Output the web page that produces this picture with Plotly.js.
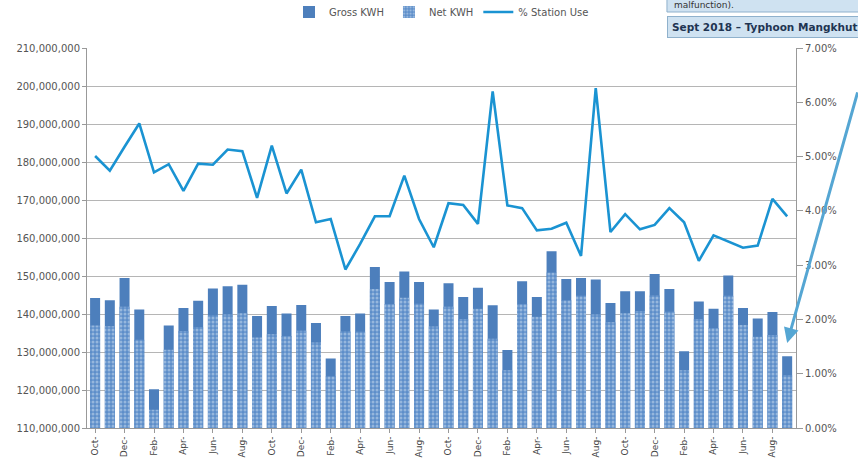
<!DOCTYPE html>
<html><head><meta charset="utf-8">
<script src="https://cdn.plot.ly/plotly-3.0.1.min.js"></script>
<style>html,body{margin:0;padding:0;background:#fff;}#chart{width:858px;height:466px;}</style>
</head><body><div id="chart"></div>
<script>
const months = ["Oct-14","Nov-14","Dec-14","Jan-15","Feb-15","Mar-15","Apr-15","May-15","Jun-15","Jul-15","Aug-15","Sep-15",
"Oct-15","Nov-15","Dec-15","Jan-16","Feb-16","Mar-16","Apr-16","May-16","Jun-16","Jul-16","Aug-16","Sep-16",
"Oct-16","Nov-16","Dec-16","Jan-17","Feb-17","Mar-17","Apr-17","May-17","Jun-17","Jul-17","Aug-17","Sep-17",
"Oct-17","Nov-17","Dec-17","Jan-18","Feb-18","Mar-18","Apr-18","May-18","Jun-18","Jul-18","Aug-18","Sep-18"];
const grossKWH = [144200000,143600000,149500000,141200000,120200000,137000000,141600000,143500000,146700000,147300000,147700000,139500000,
142100000,140100000,142400000,137600000,128300000,139500000,140100000,152400000,148400000,151200000,148400000,141200000,
148100000,144500000,146900000,142300000,130500000,148600000,144500000,156500000,149200000,149500000,149100000,142900000,
146000000,146000000,150500000,146600000,130200000,143300000,141400000,150100000,141600000,138800000,140500000,128900000];
const netKWH = [137000000,136800000,141900000,133200000,114800000,130600000,135500000,136500000,139600000,139900000,140200000,133800000,
134700000,134200000,135600000,132500000,123600000,135400000,135300000,146600000,142600000,144300000,142700000,136700000,
141900000,138700000,141400000,133500000,125200000,142600000,139300000,150900000,143600000,144800000,139900000,137800000,
140200000,140800000,144900000,140600000,125200000,138700000,136300000,144800000,137100000,134000000,134500000,123900000];
const stationUsePct = [5.01,4.74,5.18,5.61,4.71,4.86,4.37,4.87,4.85,5.13,5.10,4.24,
5.20,4.32,4.76,3.79,3.85,2.92,3.39,3.90,3.90,4.65,3.85,3.33,
4.14,4.11,3.76,6.20,4.10,4.05,3.64,3.67,3.78,3.17,6.26,3.61,
3.94,3.66,3.74,4.05,3.79,3.08,3.55,3.44,3.32,3.36,4.22,3.90];
const tickMonths = months.filter((m,i)=>i%2===0);
const tickTexts = tickMonths.map(m=>m.slice(0,4));

const font = {family:"DejaVu Sans, sans-serif", size:10, color:"#555"};
const data = [
 {type:"bar", name:"Gross KWH", x:months, y:grossKWH, width:0.68,
  marker:{color:"#4d7fbc", line:{width:0}}},
 {type:"bar", name:"Net KWH", x:months, y:netKWH, width:0.68,
  marker:{color:"#5b8ecb", line:{width:0},
   pattern:{shape:".", fgcolor:"#cfe0f2", bgcolor:"#5d8ec9", size:4, solidity:0.45, fillmode:"overlay"}}},
 {type:"scatter", mode:"lines", name:"% Station Use", x:months, y:stationUsePct, yaxis:"y2",
  line:{color:"#1a93d2", width:2.6}}
];
const layout = {
 width:858, height:466, paper_bgcolor:"#fff", plot_bgcolor:"#fff",
 margin:{l:87, r:62, t:48, b:38, autoexpand:false},
 barmode:"overlay", font:font, showlegend:true,
 legend:{orientation:"h", x:0.5, xanchor:"center", y:(428-12)/380, yanchor:"middle",
  font:{family:"DejaVu Sans, sans-serif", size:10, color:"#555"}, bgcolor:"rgba(0,0,0,0)"},
 xaxis:{type:"category", range:[-0.55,47.6], tickmode:"array", tickvals:tickMonths, ticktext:tickTexts,
  tickangle:-90, tickfont:{family:"DejaVu Sans, sans-serif", size:9, color:"#444"},
  ticks:"outside", ticklen:4, tickcolor:"#999", showline:true, linecolor:"#999", showgrid:false, automargin:false},
 yaxis:{range:[110000000,210000000], dtick:10000000, tickformat:",d", showgrid:true, gridcolor:"#b5b5b5",
  showline:true, linecolor:"#999", ticks:"outside", ticklen:4, tickcolor:"#999", zeroline:false,
  tickfont:{family:"DejaVu Sans, sans-serif", size:10, color:"#555"}, automargin:false},
 yaxis2:{overlaying:"y", side:"right", range:[0,7], dtick:1, tickformat:".2f", ticksuffix:"%",
  showgrid:false, showline:true, linecolor:"#999", ticks:"outside", ticklen:6, tickcolor:"#999", zeroline:false,
  tickfont:{family:"DejaVu Sans, sans-serif", size:10, color:"#555"}, automargin:false},
 shapes:[
  {type:"rect", xref:"paper", yref:"paper", x0:0.818, x1:1.2, y0:(428-12)/380, y1:1.3,
   fillcolor:"#cfe2f1", line:{color:"#8fb1cc", width:1}}
 ],
 annotations:[
  {xref:"paper", yref:"paper", x:0.825, y:(428-5)/380, xanchor:"left", yanchor:"middle", showarrow:false,
   text:"malfunction).", font:{family:"DejaVu Sans, sans-serif", size:9, color:"#333"}},
  {xref:"paper", yref:"paper", x:0.818, y:(428-27)/380, xanchor:"left", yanchor:"middle", showarrow:false,
   text:"<b>Sept 2018 – Typhoon Mangkhut</b>", bgcolor:"#cfe2f1", bordercolor:"#8fb1cc", borderwidth:1, borderpad:4,
   font:{family:"DejaVu Sans, sans-serif", size:10.5, color:"#1f3553"}},
  {x:"Sep-18", y:132400000, xref:"x", yref:"y", text:"", showarrow:true, arrowhead:2, arrowsize:1, arrowwidth:3,
   arrowcolor:"#55a6d3", ax:76, ay:-252}
 ]
};
Plotly.newPlot("chart", data, layout, {displayModeBar:false, staticPlot:true});
</script></body></html>
